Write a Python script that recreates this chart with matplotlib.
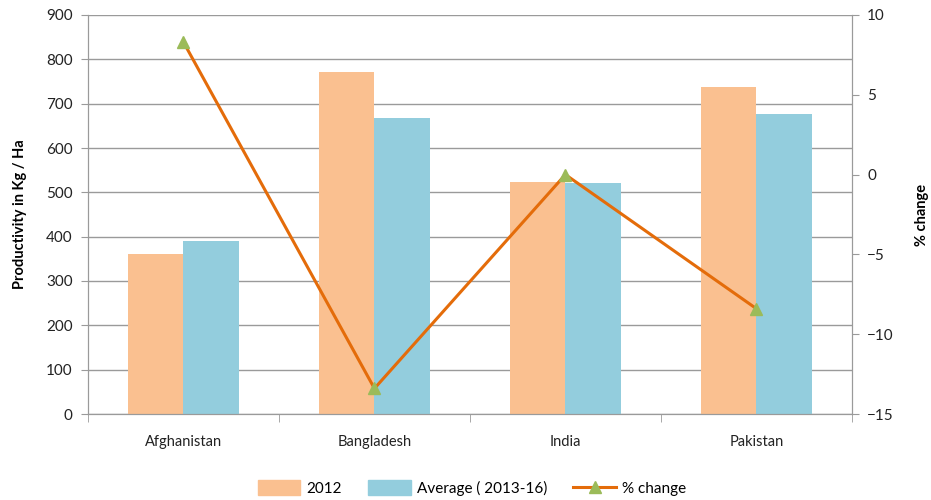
import matplotlib
matplotlib.use("Agg")
import matplotlib.pyplot as plt
import numpy as np
from matplotlib.lines import Line2D
from matplotlib.patches import Patch

countries = ["Afghanistan", "Bangladesh", "India", "Pakistan"]
yield_2012 = [360, 771, 523, 738]
yield_avg = [390, 668, 522, 676]
pct_change = [8.3, -13.4, 0.0, -8.4]

ORANGE = "#FAC090"
BLUE = "#93CDDD"
LINE = "#E46C0A"
MARK = "#9BBB59"
GRID = "#9A9A9A"
TXT = "#222222"

plt.rcParams["font.family"] = ["Lato", "DejaVu Sans"]
plt.rcParams["font.size"] = 11

fig = plt.figure(figsize=(9.31, 5.0), dpi=100)
ax = fig.add_axes([0.0945, 0.172, 0.8205, 0.798])
x = np.arange(len(countries))
w = 0.29

ax.bar(x - w / 2, yield_2012, w, color=ORANGE, zorder=2)
ax.bar(x + w / 2, yield_avg, w, color=BLUE, zorder=2)
ax.set_xlim(-0.5, len(countries) - 0.5)
ax.set_ylim(0, 900)
ax.set_yticks(range(0, 901, 100))
ax.yaxis.grid(True, color=GRID, lw=1.0, zorder=0)
ax.set_axisbelow(True)
ax.set_xticks(x)
ax.set_xticklabels(countries, fontsize=10.5)
ax.tick_params(axis="x", length=0, pad=15, colors=TXT)
ax.tick_params(axis="y", length=5, color=GRID, colors=TXT, pad=6)
# category separators below the x axis
ax.set_xticks(np.arange(-0.5, len(countries), 1.0), minor=True)
ax.tick_params(axis="x", which="minor", length=6, color=GRID)
ax.set_ylabel("Productivity in Kg / Ha", fontweight="bold", fontsize=10.5,
              labelpad=14)
ax.spines["top"].set_visible(False)
for s in ["left", "bottom", "right"]:
    ax.spines[s].set_color(GRID)

ax2 = ax.twinx()
ax2.plot(x, pct_change, color=LINE, lw=2.2, marker="^", ms=9,
         mfc=MARK, mec=MARK, zorder=3)
ax2.set_ylim(-15, 10)
ax2.set_yticks(range(-15, 11, 5))
ax2.tick_params(axis="y", length=5, color=GRID, colors=TXT, pad=6)
ax2.set_ylabel("% change", fontweight="bold", fontsize=10.5, rotation=90,
               labelpad=15)
ax2.spines["top"].set_visible(False)
for s in ["left", "bottom", "right"]:
    ax2.spines[s].set_color(GRID)

handles = [
    Patch(color=ORANGE, label="2012"),
    Patch(color=BLUE, label="Average ( 2013-16)"),
    Line2D([], [], color=LINE, lw=2.2, marker="^", ms=8, mfc=MARK, mec=MARK,
           label="% change"),
]
fig.legend(handles=handles, loc="center", bbox_to_anchor=(0.507, 0.024),
           ncol=3, frameon=False, handlelength=2.8, handleheight=1.1,
           columnspacing=1.7, handletextpad=0.4)

fig.savefig("out.png", dpi=100)
